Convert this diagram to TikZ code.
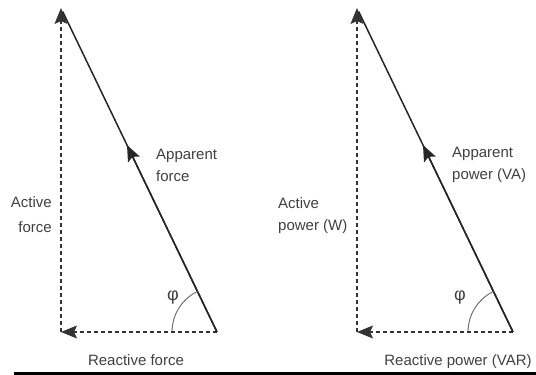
\documentclass[tikz,border=0pt]{standalone}
\usepackage{fontspec}
\newfontfamily\lblfont{Liberation Sans}
\usetikzlibrary{arrows.meta}
\usetikzlibrary{calc}

\tikzset{
  vec/.style={line width=1.5pt,color=black!85},
  dashvec/.style={line width=1.2pt,color=black!80,dash pattern=on 4pt off 3pt},
  tipvec/.style={-{Stealth[length=16pt,width=13pt,inset=3pt]}},
  anglearc/.style={line width=0.9pt,color=black!60},
  lbl/.style={font=\lblfont\fontsize{15}{22}\selectfont,text=black!75,inner sep=0pt},
}

\begin{document}
\begin{tikzpicture}[x=1pt,y=1pt]
\useasboundingbox (0,0) rectangle (536,375);

% the two triangles have the same shape, the second is shifted right
\foreach \dx/\nm in {0/L,296/R}{
  \coordinate (\nm bl) at (61+\dx,43);
  \coordinate (\nm br) at (217+\dx,43);
  \coordinate (\nm top) at (61+\dx,367);
  \draw[dashvec,tipvec] (\nm bl) -- (\nm top);
  \draw[dashvec,tipvec] (\nm br) -- (\nm bl);
  \draw[vec,shorten >=4pt] (\nm br) -- (\nm top);
  \draw[vec,tipvec] (\nm br) -- ($(\nm br)!0.577!(\nm top)$);
  \draw[anglearc] ($(\nm br)+(-45,0)$) arc[start angle=180,end angle=115.7,radius=45];
}

% labels, left triangle
\node[lbl,anchor=north west,align=left] (appL) at (156,226) {Apparent\\force};
\node[lbl,anchor=north east,align=right,font=\lblfont\fontsize{15}{25}\selectfont] (actL) at (52,179) {Active\\force};
\node[lbl,anchor=base] (reaL) at (136,9) {Reactive force};
\node[lbl,font=\lblfont\fontsize{18}{22}\selectfont] (phiL) at (173,77) {φ};

% labels, right triangle
\node[lbl,anchor=north west,align=left] (appR) at (452,228) {Apparent\\power (VA)};
\node[lbl,anchor=north west,align=left] (actR) at (278,178) {Active\\power (W)};
\node[lbl,anchor=base] (reaR) at (458,9) {Reactive power (VAR)};
\node[lbl,font=\lblfont\fontsize{18}{22}\selectfont] (phiR) at (460,77) {φ};

% rule under the figure
\fill[black] (14,0) rectangle (536,3);

\end{tikzpicture}
\end{document}
